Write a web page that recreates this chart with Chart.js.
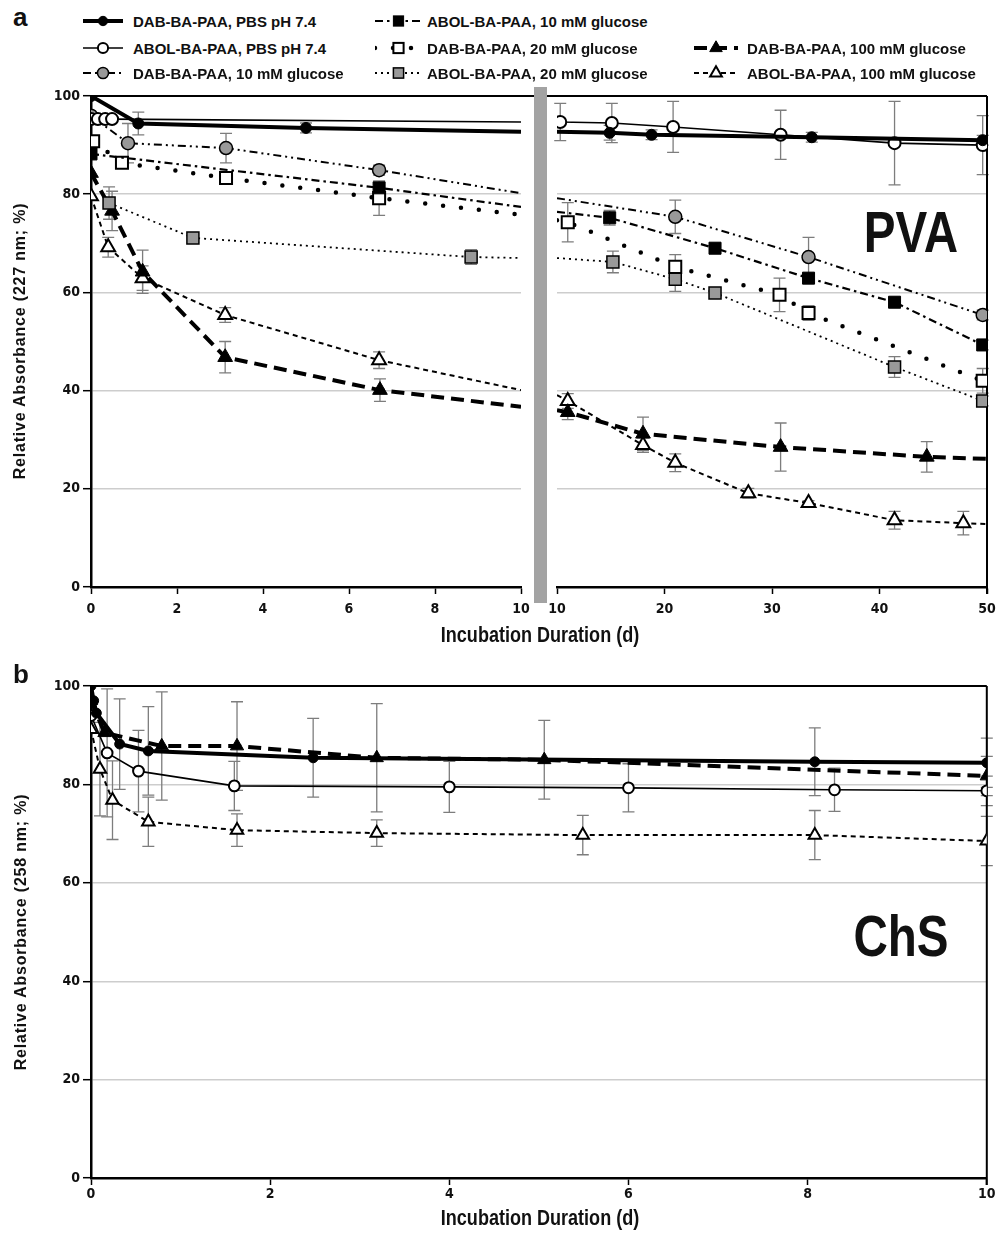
<!DOCTYPE html>
<html>
<head>
<meta charset="utf-8">
<title>PVA / ChS relative absorbance</title>
<script src="https://cdn.jsdelivr.net/npm/chart.js@4.4.1/dist/chart.umd.min.js"></script>
<style>
  body { margin: 0; background: #fff; }
  #page { position: relative; width: 996px; height: 1237px; overflow: hidden; color: #111;
          font-family: "Liberation Sans", Arial, sans-serif; }
  canvas { position: absolute; }
  .txt { position: absolute; font-weight: bold; white-space: nowrap; line-height: 1; }
  /* no narrow face installed, so squeeze Liberation Sans Bold */
  .narrow { transform: translate(-50%, -50%) scaleX(0.82); }
  .ytitle { font-size: 16px; letter-spacing: 0.8px; transform: translate(-50%, -50%) rotate(-90deg); }
  .xtitle { font-size: 22px; }
  .big { font-size: 58px; }
  .panel { font-size: 26px; }
  .leg { position: absolute; }
  .leg svg { position: absolute; }
  .leg span { position: absolute; font-size: 15px; font-weight: bold; white-space: nowrap; line-height: 1;
              transform: translateY(-50%); }
  #bar { position: absolute; left: 534px; top: 87px; width: 13px; height: 516px; background: #a3a3a3; }
</style>
</head>
<body>
<div id="page">
  <canvas id="aLeft" width="534" height="545" style="left:0;top:80px"></canvas>
  <canvas id="aRight" width="449" height="545" style="left:547px;top:80px"></canvas>
  <canvas id="bChart" width="996" height="546" style="left:0;top:670px"></canvas>
  <div id="bar"></div>

  <div class="txt panel" style="left:13px;top:4px">a</div>
  <div class="txt panel" style="left:13px;top:661px">b</div>
  <div class="txt ytitle" style="left:20px;top:341px">Relative Absorbance (227 nm; %)</div>
  <div class="txt ytitle" style="left:21px;top:932px">Relative Absorbance (258 nm; %)</div>
  <div class="txt narrow xtitle" style="left:540px;top:635px">Incubation Duration (d)</div>
  <div class="txt narrow xtitle" style="left:540px;top:1218px">Incubation Duration (d)</div>
  <div class="txt narrow big" style="left:911px;top:232px">PVA</div>
  <div class="txt narrow big" style="left:901px;top:936px">ChS</div>
  <div id="legend"></div>
</div>

<script>
const NARROW = '"DejaVu Sans Condensed", "Liberation Sans", sans-serif';

// series names (legend order)
const names = [
  'DAB-BA-PAA, PBS pH 7.4',
  'ABOL-BA-PAA, PBS pH 7.4',
  'DAB-BA-PAA, 10 mM glucose',
  'ABOL-BA-PAA, 10 mM glucose',
  'DAB-BA-PAA, 20 mM glucose',
  'ABOL-BA-PAA, 20 mM glucose',
  'DAB-BA-PAA, 100 mM glucose',
  'ABOL-BA-PAA, 100 mM glucose'
];

// axis ticks
const yTicks = [0, 20, 40, 60, 80, 100];
const xTicksLeft = [0, 2, 4, 6, 8, 10];
const xTicksRight = [10, 20, 30, 40, 50];
const xTicksB = [0, 2, 4, 6, 8, 10];

// ---- panel a (PVA, 227 nm) : days, %, +/- error ----
const a1_x = [0, 1.1, 5.0, 14.9, 18.8, 33.7, 49.6];
const a1_y = [100, 94.4, 93.5, 92.5, 92.1, 91.6, 91.0];
const a1_e = [0, 2.3, 1.0, 1.5, 1.0, 1.0, 1.0];

const a2_x = [0, 0.16, 0.33, 0.49, 10.3, 15.1, 20.8, 30.8, 41.4, 49.6];
const a2_y = [95.3, 95.3, 95.3, 95.3, 94.7, 94.5, 93.7, 92.1, 90.4, 90.0];
const a2_e = [0, 0, 0, 0, 3.8, 4.0, 5.2, 5.0, 8.5, 6.0];

const a3_x = [0, 0.86, 3.14, 6.7, 21.0, 33.4, 49.6];
const a3_y = [96, 90.4, 89.4, 84.9, 75.4, 67.2, 55.4];
const a3_e = [0, 4.0, 3.0, 1.0, 3.4, 4.0, 1.0];

const a4_x = [0, 6.7, 14.9, 24.7, 33.4, 41.4, 49.6];
const a4_y = [88.2, 81.3, 75.2, 69.0, 62.9, 58.0, 49.3];
const a4_e = [0, 1.0, 1.5, 1.0, 1.0, 1.0, 1.0];

const a5_x = [0.05, 0.72, 3.14, 6.7, 11.0, 21.0, 30.7, 33.4, 49.6];
const a5_y = [90.8, 86.4, 83.3, 79.2, 74.3, 65.2, 59.5, 55.8, 42.0];
const a5_e = [0, 1.0, 1.0, 3.5, 4.0, 2.5, 3.4, 1.5, 2.5];

const a6_x = [0.42, 2.37, 8.84, 15.2, 21.0, 24.7, 41.4, 49.6];
const a6_y = [78.2, 71.1, 67.2, 66.2, 62.7, 59.9, 44.8, 37.9];
const a6_e = [3.3, 1.0, 1.5, 2.2, 2.5, 1.0, 2.1, 1.0];

const a7_x = [0, 0.49, 1.2, 3.12, 6.72, 11.0, 18.0, 30.8, 44.4];
const a7_y = [84.3, 76.6, 64.2, 46.8, 40.1, 35.6, 31.2, 28.5, 26.5];
const a7_e = [0, 4.0, 4.4, 3.2, 2.3, 1.5, 3.4, 4.9, 3.1];

const a8_x = [0, 0.4, 1.2, 3.12, 6.7, 11.0, 18.0, 21.0, 27.8, 33.4, 41.4, 47.8];
const a8_y = [79.6, 69.2, 62.9, 55.4, 46.2, 37.9, 28.9, 25.3, 19.1, 17.1, 13.6, 13.0];
const a8_e = [0, 2.0, 2.5, 1.5, 1.7, 1.5, 1.5, 1.8, 1.0, 0.5, 1.8, 2.4];

// where each line meets the axis break (day 10) and the right end (day 50)
const a_at10_left = [92.7, 94.7, 80.2, 77.4, 75.8, 67.0, 36.7, 40.1];
const a_at10_right = [92.7, 94.8, 79.2, 76.4, 74.7, 67.0, 36.0, 39.1];
const a_at50 = [91.0, 90.0, 55.4, 49.3, 42.0, 37.9, 26.1, 12.8];

// ---- panel b (ChS, 258 nm) ----
const b1_x = [0, 0.03, 0.06, 0.32, 0.64, 2.48, 8.08, 10];
const b1_y = [100, 97, 94.5, 88.2, 86.8, 85.4, 84.6, 84.4];
const b1_e = [0, 0, 0, 9.2, 9.0, 8.0, 6.9, 5.0];

const b2_x = [0, 0.18, 0.53, 1.6, 4.0, 6.0, 8.3, 10];
const b2_y = [94, 86.4, 82.7, 79.7, 79.5, 79.3, 78.9, 78.7];
const b2_e = [0, 13, 8.3, 5.0, 5.2, 4.9, 4.4, 3.0];

const b3_x = [0, 0.15, 0.79, 1.63, 3.19, 5.06, 10];
const b3_y = [97, 90.5, 87.8, 87.8, 85.4, 85.0, 81.7];
const b3_e = [0, 0, 11, 9, 11, 8, 4];

const b4_x = [0, 0.1, 0.24, 0.64, 1.63, 3.19, 5.49, 8.08, 10];
const b4_y = [91.2, 83.1, 76.8, 72.4, 70.7, 70.1, 69.7, 69.7, 68.5];
const b4_e = [0, 9.5, 8, 5, 3.3, 2.7, 4, 5, 5];

// line / marker look for each series
const styles = [
  { w: 4, dash: [], shape: 'circle', r: 5.5, fill: '#000', bw: 1 },
  { w: 1.6, dash: [], shape: 'circle', r: 6, fill: '#fff', bw: 2 },
  { w: 2, dash: [8, 4, 2, 4, 2, 4], shape: 'circle', r: 6.5, fill: '#999', bw: 1.5 },
  { w: 2.2, dash: [8, 4, 2.5, 4], shape: 'rect', r: 8.5, fill: '#000', bw: 1 },
  { w: 4.5, dash: [0, 18], cap: 'round', shape: 'rect', r: 8.5, fill: '#fff', bw: 2 },
  { w: 1.8, dash: [2, 4], shape: 'rect', r: 8.5, fill: '#999', bw: 1.5 },
  { w: 4, dash: [13, 7], shape: 'triangle', r: 8.5, fill: '#000', bw: 1 },
  { w: 2, dash: [5, 4], shape: 'triangle', r: 8, fill: '#fff', bw: 2 }
];

const aX = [a1_x, a2_x, a3_x, a4_x, a5_x, a6_x, a7_x, a8_x];
const aY = [a1_y, a2_y, a3_y, a4_y, a5_y, a6_y, a7_y, a8_y];
const aE = [a1_e, a2_e, a3_e, a4_e, a5_e, a6_e, a7_e, a8_e];

function pts(xs, ys, es) {
  return xs.map((x, i) => ({ x: x, y: ys[i], e: es[i], m: true }));
}

function makeDs(i, data, k) {
  const s = styles[i];
  return {
    label: names[i],
    data: data,
    borderColor: '#000',
    borderWidth: s.w,
    borderDash: s.dash,
    borderCapStyle: s.cap || 'butt',
    pointStyle: s.shape,
    pointBackgroundColor: s.fill,
    pointBorderColor: '#000',
    pointBorderWidth: s.bw,
    pointRadius: (ctx) => (ctx.raw && ctx.raw.m ? s.r * k : 0),
    tension: 0,
    fill: false
  };
}

// error bars, drawn under the lines
const errBars = {
  id: 'errBars',
  beforeDatasetsDraw(chart) {
    const c = chart.ctx, xs = chart.scales.x, ys = chart.scales.y;
    c.save();
    c.strokeStyle = '#7d7d7d';
    c.lineWidth = 1.3;
    chart.data.datasets.forEach((ds) => {
      ds.data.forEach((p) => {
        if (!p.e) return;
        const px = xs.getPixelForValue(p.x);
        const t = ys.getPixelForValue(p.y + p.e);
        const b = ys.getPixelForValue(p.y - p.e);
        c.beginPath();
        c.moveTo(px, t); c.lineTo(px, b);
        c.moveTo(px - 6, t); c.lineTo(px + 6, t);
        c.moveTo(px - 6, b); c.lineTo(px + 6, b);
        c.stroke();
      });
    });
    c.restore();
  }
};

// top / right frame lines
function frame(o) {
  return {
    id: 'frame',
    beforeDatasetsDraw(chart) {
      const c = chart.ctx, a = chart.chartArea;
      c.save();
      c.strokeStyle = '#000';
      c.lineWidth = 2;
      c.beginPath();
      c.moveTo(o.fromEdge ? 0 : a.left, a.top);
      c.lineTo(o.toEdge ? chart.width : a.right, a.top);
      if (o.right) {
        c.moveTo(a.right, a.top);
        c.lineTo(a.right, a.bottom + 7);
      }
      c.stroke();
      c.restore();
    }
  };
}

const tickFont = { family: NARROW, size: 14, weight: 'bold' };

function xScale(ticks, pad) {
  return {
    type: 'linear',
    min: ticks[0],
    max: ticks[ticks.length - 1],
    ticks: { stepSize: ticks[1] - ticks[0], padding: pad, color: '#111', font: tickFont, maxRotation: 0, autoSkip: false },
    grid: { drawOnChartArea: false, tickLength: 7, tickColor: '#000', tickWidth: 1.5 },
    border: { color: '#000', width: 2.5 },
    // fixed height, and no extra room for the end labels
    afterFit: (s) => { s.height = 38; s.paddingLeft = 0; s.paddingRight = 0; }
  };
}

function yScale(show) {
  return {
    min: yTicks[0],
    max: yTicks[yTicks.length - 1],
    ticks: { display: show, stepSize: yTicks[1] - yTicks[0], padding: 3, color: '#111', font: tickFont },
    grid: {
      color: (ctx) => (ctx.tick && ctx.tick.value > 0 && ctx.tick.value < 100 ? '#cdcdcd' : 'rgba(0,0,0,0)'),
      lineWidth: 1.4,
      drawTicks: show,
      tickLength: 8,
      tickColor: '#000',
      tickWidth: 1.5
    },
    border: { display: show, color: '#000', width: 2.5 },
    afterFit: (s) => { s.width = show ? 91 : 0; s.paddingTop = 0; s.paddingBottom = 0; }
  };
}

function baseOptions(pad, xs, showY) {
  return {
    responsive: false,
    animation: false,
    events: [],
    layout: { padding: pad },
    plugins: { legend: { display: false }, tooltip: { enabled: false } },
    scales: { x: xs, y: yScale(showY) }
  };
}

// panel a, left part (0-10 d)
const leftSets = names.map((n, i) => {
  const d = pts(aX[i], aY[i], aE[i]).filter((p) => p.x < 10);
  d.push({ x: 10, y: a_at10_left[i], e: 0, m: false });
  return makeDs(i, d, 1);
});

// panel a, right part (10-50 d)
const rightSets = names.map((n, i) => {
  const d = [{ x: 10, y: a_at10_right[i], e: 0, m: false }];
  pts(aX[i], aY[i], aE[i]).forEach((p) => { if (p.x > 10) d.push(p); });
  d.push({ x: 50, y: a_at50[i], e: 0, m: false });
  return makeDs(i, d, 1);
});

new Chart(document.getElementById('aLeft'), {
  type: 'line',
  data: { datasets: leftSets },
  options: baseOptions({ top: 16, right: 13, left: 0, bottom: 0 }, xScale(xTicksLeft, 7), true),
  plugins: [errBars, frame({ toEdge: true })]
});

new Chart(document.getElementById('aRight'), {
  type: 'line',
  data: { datasets: rightSets },
  options: baseOptions({ top: 16, right: 9, left: 10, bottom: 0 }, xScale(xTicksRight, 7), false),
  plugins: [errBars, frame({ fromEdge: true, right: true })]
});

// panel b uses the PBS and 100 mM series
const bSets = [
  makeDs(0, pts(b1_x, b1_y, b1_e), 0.9),
  makeDs(1, pts(b2_x, b2_y, b2_e), 0.9),
  makeDs(6, pts(b3_x, b3_y, b3_e), 0.9),
  makeDs(7, pts(b4_x, b4_y, b4_e), 0.9)
];

new Chart(document.getElementById('bChart'), {
  type: 'line',
  data: { datasets: bSets },
  options: baseOptions({ top: 16, right: 9, left: 0, bottom: 0 }, xScale(xTicksB, 1), true),
  plugins: [errBars, frame({ right: true })]
});

// legend (html + little svg symbols)
const legCols = [{ sx: 83, sw: 40, tx: 133 }, { sx: 375, sw: 47, tx: 427 }, { sx: 694, sw: 44, tx: 747 }];
const legRows = [21, 47.5, 73];
const legPlace = [[0, 0], [0, 1], [0, 2], [1, 0], [1, 1], [1, 2], [2, 1], [2, 2]];

function symbol(s, w) {
  const h = 20, cy = 10, cx = w / 2, r = s.r * 0.85;
  let out = '<line x1="0" y1="' + cy + '" x2="' + w + '" y2="' + cy + '" stroke="#000" stroke-width="' + s.w + '"' +
    (s.dash.length ? ' stroke-dasharray="' + s.dash.join(' ') + '"' : '') +
    ' stroke-linecap="' + (s.cap || 'butt') + '"/>';
  const st = ' fill="' + s.fill + '" stroke="#000" stroke-width="' + s.bw + '"';
  if (s.shape === 'circle') {
    out += '<circle cx="' + cx + '" cy="' + cy + '" r="' + r + '"' + st + '/>';
  } else if (s.shape === 'rect') {
    const a = r * Math.SQRT1_2;
    out += '<rect x="' + (cx - a) + '" y="' + (cy - a) + '" width="' + 2 * a + '" height="' + 2 * a + '"' + st + '/>';
  } else {
    const sx = r * Math.sin(Math.PI / 3);
    out += '<polygon points="' + cx + ',' + (cy - r) + ' ' + (cx + sx) + ',' + (cy + r / 2) + ' ' + (cx - sx) + ',' + (cy + r / 2) + '"' + st + '/>';
  }
  return '<svg width="' + w + '" height="' + h + '" style="left:0;top:-10px">' + out + '</svg>';
}

let html = '';
legPlace.forEach((p, i) => {
  const col = legCols[p[0]], y = legRows[p[1]];
  html += '<div class="leg" style="left:' + col.sx + 'px;top:' + y + 'px">' + symbol(styles[i], col.sw) +
    '<span style="left:' + (col.tx - col.sx) + 'px;top:0">' + names[i] + '</span></div>';
});
document.getElementById('legend').innerHTML = html;
</script>
</body>
</html>
